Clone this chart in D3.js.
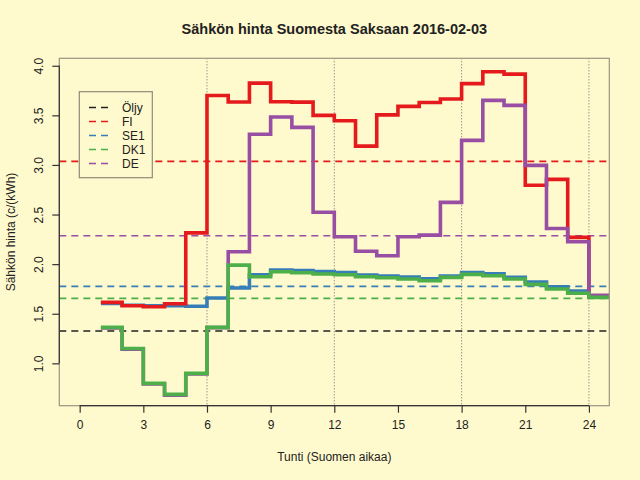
<!DOCTYPE html>
<html>
<head>
<meta charset="utf-8">
<script src="https://cdn.jsdelivr.net/npm/d3@7/dist/d3.min.js"></script>
<style>
html,body{margin:0;padding:0;background:#FFFACD;}
svg{display:block;}
text{font-family:"Liberation Sans",Arial,Helvetica,sans-serif;fill:#222;}
</style>
</head>
<body>
<div id="chart"></div>
<script>
// Data
const hours = [1,2,3,4,5,6,7,8,9,10,11,12,13,14,15,16,17,18,19,20,21,22,23,24];
const fi  = [1.615,1.58,1.57,1.60,2.315,3.70,3.635,3.825,3.637,3.633,3.50,3.445,3.19,3.505,3.59,3.63,3.665,3.82,3.94,3.915,2.795,2.855,2.27,1.68];
const se1 = [1.605,1.585,1.58,1.58,1.575,1.658,1.76,1.893,1.94,1.935,1.925,1.915,1.89,1.88,1.87,1.853,1.88,1.915,1.903,1.867,1.82,1.772,1.728,1.67];
const dk1 = [1.363,1.15,0.798,0.687,0.899,1.363,1.99,1.873,1.923,1.913,1.90,1.893,1.873,1.863,1.85,1.833,1.867,1.897,1.883,1.85,1.796,1.75,1.706,1.665];
const de  = [1.357,1.143,0.792,0.68,0.892,1.36,2.125,3.309,3.483,3.379,2.523,2.276,2.13,2.085,2.276,2.293,2.623,3.248,3.651,3.60,2.996,2.36,2.226,1.685];
const seriesNames = ["Öljy","FI","SE1","DK1","DE"];
const seriesColors = ["#222222","#E41A1C","#377EB8","#4DAF4A","#984EA3"];
const refLevels = [1.326, 3.036, 1.776, 1.655, 2.286]; // Öljy, FI mean, SE1 mean, DK1 mean, DE mean
const xTicks = [0,3,6,9,12,15,18,21,24];
const yTicks = [1.0,1.5,2.0,2.5,3.0,3.5,4.0];
const gridHours = [6,12,18,24];
const titleText = "Sähkön hinta Suomesta Saksaan 2016-02-03";
const xLabel = "Tunti (Suomen aikaa)";
const yLabel = "Sähkön hinta (c/(kWh)";

const W = 640, H = 480;
const L = 59.3, R = 609.3, T = 58.3, B = 405.7;

const svg = d3.select("#chart").append("svg").attr("width", W).attr("height", H);
svg.append("rect").attr("width", W).attr("height", H).attr("fill", "#FFFACD");

const x = d3.scaleLinear().domain([-0.96, 24.96]).range([L, R]);
const y = d3.scaleLinear().domain([0.573, 4.075]).range([B, T]);

svg.append("defs").append("clipPath").attr("id","clip")
  .append("rect").attr("x", L).attr("y", T).attr("width", R-L).attr("height", B-T);

const plot = svg.append("g").attr("clip-path","url(#clip)");

// vertical dotted grid
plot.selectAll("line.grid").data(gridHours).enter().append("line")
  .attr("x1", d=>x(d)).attr("x2", d=>x(d)).attr("y1", T).attr("y2", B)
  .attr("stroke", "#6b6b6b").attr("stroke-width", 1).attr("stroke-dasharray", "1,2");

// horizontal reference dashed lines
plot.selectAll("line.ref").data(refLevels).enter().append("line")
  .attr("x1", L).attr("x2", R).attr("y1", d=>y(d)).attr("y2", d=>y(d))
  .attr("stroke", (d,i)=>seriesColors[i]).attr("stroke-width", 1.6).attr("stroke-dasharray", "7,5");

// step lines
const line = d3.line().x(d=>x(d[0])).y(d=>y(d[1])).curve(d3.curveStepAfter);
function pts(vals){
  const p = hours.map((h,i)=>[h, vals[i]]);
  p.push([hours[hours.length-1]+1, vals[vals.length-1]]);
  return p;
}
const drawOrder = [[se1,2],[fi,1],[de,4],[dk1,3]];
drawOrder.forEach(([vals, ci])=>{
  plot.append("path").attr("d", line(pts(vals)))
    .attr("fill","none").attr("stroke", seriesColors[ci]).attr("stroke-width", 3.6)
    .attr("stroke-linejoin","miter").attr("stroke-linecap","butt");
});

// box
svg.append("rect").attr("x", L).attr("y", T).attr("width", R-L).attr("height", B-T)
  .attr("fill","none").attr("stroke","#9c9582").attr("stroke-width",1.2);

// axes
const xAxis = d3.axisBottom(x).tickValues(xTicks).tickSize(7).tickPadding(8).tickFormat(d3.format("d"));
const gx = svg.append("g").attr("transform", `translate(0,${B})`).call(xAxis);
gx.select(".domain").attr("d", `M${x(0)},0H${x(24)}`).attr("stroke","#333").attr("stroke-width",1.2);
gx.selectAll(".tick line").attr("stroke","#333").attr("stroke-width",1.2);
gx.selectAll(".tick text").attr("font-size", 12).attr("font-family","Liberation Sans, Arial, sans-serif").attr("fill","#222").attr("dy","0.71em");

const yAxis = d3.axisLeft(y).tickValues(yTicks).tickSize(7).tickFormat(d3.format(".1f"));
const gy = svg.append("g").attr("transform", `translate(${L},0)`).call(yAxis);
gy.select(".domain").attr("d", `M0,${y(1.0)}V${y(4.0)}`).attr("stroke","#333").attr("stroke-width",1.2);
gy.selectAll(".tick line").attr("stroke","#333").attr("stroke-width",1.2);
gy.selectAll(".tick text").remove();
gy.selectAll(".tick").append("text")
  .attr("transform", `translate(${43-L},0) rotate(-90)`)
  .attr("text-anchor","middle").attr("font-size",12).attr("fill","#222")
  .text(d=>d3.format(".1f")(d));

// titles
svg.append("text").attr("x", (L+R)/2).attr("y", 34).attr("text-anchor","middle")
  .attr("font-size", 14.5).attr("font-weight","bold").text(titleText);
svg.append("text").attr("x", (L+R)/2).attr("y", 461).attr("text-anchor","middle")
  .attr("font-size", 12).text(xLabel);
svg.append("text").attr("transform", `translate(15,${(T+B)/2}) rotate(-90)`).attr("text-anchor","middle")
  .attr("font-size", 12).text(yLabel);

// legend
const lg = svg.append("g");
lg.append("rect").attr("x", 79.3).attr("y", 91.7).attr("width", 73).attr("height", 86)
  .attr("fill","#FFFACD").attr("stroke","#8f8a7a").attr("stroke-width",1.2);
seriesNames.forEach((n,i)=>{
  const yy = 107.5 + i*14;
  lg.append("line").attr("x1", 89).attr("x2", 108).attr("y1", yy).attr("y2", yy)
    .attr("stroke", seriesColors[i]).attr("stroke-width", 1.6).attr("stroke-dasharray","7,5");
  lg.append("text").attr("x", 122).attr("y", yy+4.3).attr("font-size", 12).text(n);
});
</script>
</body>
</html>
